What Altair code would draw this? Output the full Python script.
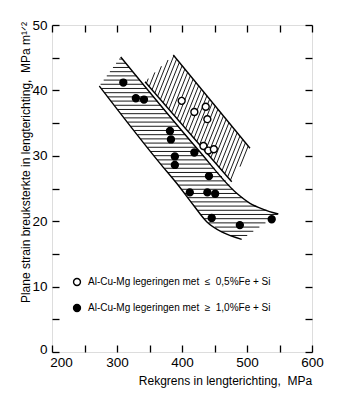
import altair as alt
import pandas as pd
import numpy as np

# ---- data ----
open_x = [399.5, 419, 436.5, 439, 433, 440.5, 449]
open_y = [38.4, 36.7, 37.5, 35.6, 31.5, 30.8, 31.0]
filled_x = [309.7, 329, 341.5, 381.5, 383, 389, 389, 419, 441.5, 412, 439, 451, 445.7, 489, 538]
filled_y = [41.2, 38.8, 38.6, 33.8, 32.5, 29.9, 28.6, 30.5, 26.9, 24.4, 24.4, 24.2, 20.5, 19.4, 20.3]

label_open = "Al-Cu-Mg legeringen met\u00a0\u00a0\u2264\u00a0\u00a00,5%Fe + Si"
label_filled = "Al-Cu-Mg legeringen met\u00a0\u00a0\u2265\u00a0\u00a01,0%Fe + Si"

# band 1 (horizontal hatch): upper edge and lower edge
band1_upper_x = [305.7, 425.1, 484.2, 504.6, 525.1, 548.2]
band1_upper_y = [45.11, 30.89, 24.27, 22.74, 21.82, 21.10]
band1_lower_x = [272.8, 366.2, 391.8, 417.4, 438.0, 463.5, 491.8]
band1_lower_y = [40.67, 28.85, 25.80, 22.48, 19.92, 18.24, 17.23]
# band 2 (slanted hatch)
band2_upper_x = [386.6, 504.6]
band2_upper_y = [45.41, 31.15]
band2_lower_x = [343.1, 476.5]
band2_lower_y = [41.33, 26.04]

x_ticks = list(range(200, 601, 50))
y_ticks = list(range(0, 51, 5))

W, H = 260, 327
XD, YD = (200, 600), (0, 50)


def to_px(x, y):
    return ((x - XD[0]) / (XD[1] - XD[0]) * W, H - (y - YD[0]) / (YD[1] - YD[0]) * H)


def to_data(px, py):
    return (XD[0] + px / W * (XD[1] - XD[0]), YD[0] + (H - py) / H * (YD[1] - YD[0]))


def hatch(xs, ys, direction, spacing):
    pts = np.array([to_px(x, y) for x, y in zip(xs, ys)])
    d = np.array(direction, float)
    d /= np.linalg.norm(d)
    n = np.array([-d[1], d[0]])
    proj = pts @ n
    segs = []
    c = proj.min() + spacing / 2
    m = len(pts)
    while c < proj.max():
        hits = []
        for i in range(m):
            a, b = pts[i], pts[(i + 1) % m]
            sa, sb = a @ n - c, b @ n - c
            if sa * sb < 0:
                t = sa / (sa - sb)
                hits.append(a + t * (b - a))
        hits.sort(key=lambda p: p @ d)
        for k in range(0, len(hits) - 1, 2):
            p, q = hits[k], hits[k + 1]
            x1, y1 = to_data(*p)
            x2, y2 = to_data(*q)
            segs.append(dict(x=x1, y=y1, x2=x2, y2=y2))
        c += spacing
    return segs


poly1_x = band1_upper_x + band1_lower_x[::-1]
poly1_y = band1_upper_y + band1_lower_y[::-1]
poly2_x = band2_upper_x + band2_lower_x[::-1]
poly2_y = band2_upper_y + band2_lower_y[::-1]

hatch_df = pd.DataFrame(hatch(poly1_x, poly1_y, (1, 0), 4.2) + hatch(poly2_x, poly2_y, (1, -2.5), 3.8))

edges = []
for name, xs, ys in [("b1u", band1_upper_x, band1_upper_y), ("b1l", band1_lower_x, band1_lower_y),
                     ("b2u", band2_upper_x, band2_upper_y), ("b2l", band2_lower_x, band2_lower_y)]:
    for i, (x, y) in enumerate(zip(xs, ys)):
        edges.append(dict(seg=name, i=i, x=x, y=y))
edge_df = pd.DataFrame(edges)

pts_df = pd.DataFrame(
    [dict(x=x, y=y, g=label_open) for x, y in zip(open_x, open_y)]
    + [dict(x=x, y=y, g=label_filled) for x, y in zip(filled_x, filled_y)]
)

xscale = alt.Scale(domain=list(XD), nice=False, zero=False)
yscale = alt.Scale(domain=list(YD), nice=False, zero=False)
FONT = "Liberation Sans"

hatch_layer = alt.Chart(hatch_df).mark_rule(color="black", strokeWidth=0.9).encode(
    x=alt.X("x:Q", scale=xscale, axis=None),
    y=alt.Y("y:Q", scale=yscale, axis=None),
    x2="x2:Q",
    y2="y2:Q",
)

edge_layer = alt.Chart(edge_df).mark_line(color="black", strokeWidth=1.4, interpolate="monotone").encode(
    x=alt.X("x:Q", scale=xscale,
            axis=alt.Axis(orient="top", values=x_ticks, labels=False, domain=False, grid=False,
                          ticks=True, tickSize=7, offset=-7, tickColor="black", tickWidth=1.3, title=None)),
    y=alt.Y("y:Q", scale=yscale,
            axis=alt.Axis(orient="right", values=y_ticks, labels=False, domain=False, grid=False,
                          ticks=True, tickSize=7, offset=-7, tickColor="black", tickWidth=1.3, title=None)),
    detail="seg:N",
    order="i:Q",
)

points_layer = alt.Chart(pts_df).mark_point(shape="circle", size=48, stroke="black", strokeWidth=1.4,
                                             opacity=1, fillOpacity=1).encode(
    x=alt.X("x:Q", scale=xscale,
            axis=alt.Axis(orient="bottom", values=x_ticks,
                          labelExpr="datum.value % 100 == 0 ? datum.label : ''",
                          labelFlush=False,
                          labelOffset={"condition": {"test": "datum.value == 200", "value": 9}, "value": 0},
                          domain=False, grid=False, tickSize=7, offset=-7, tickColor="black", tickWidth=1.3,
                          labelPadding=3, labelFontSize=13.5, labelFont=FONT, labelColor="black",
                          labelBaseline="top",
                          title="Rekgrens in lengterichting,\u00a0\u00a0MPa", titleFont=FONT, titleFontSize=12,
                          titleFontWeight="normal", titleColor="black", titleX=173, titleY=35,
                          titleBaseline="middle", titleAlign="center")),
    y=alt.Y("y:Q", scale=yscale,
            axis=alt.Axis(orient="left", values=y_ticks,
                          labelExpr="datum.value % 10 == 0 ? datum.label : ''",
                          labelFlush=False,
                          labelOffset={"condition": {"test": "datum.value == 0", "value": -3}, "value": 0},
                          domain=False, grid=False, tickSize=7, offset=-7, tickColor="black", tickWidth=1.3,
                          labelPadding=5, labelFontSize=13.5, labelFont=FONT, labelColor="black",
                          title="Plane strain breuksterkte in lengterichting,\u00a0\u00a0MPa m\u00b9\u141f\u00b2",
                          titleFont=FONT, titleFontSize=12, titleFontWeight="normal", titleColor="black",
                          titleX=-34, titleY=137, titleBaseline="middle", titleAlign="center")),
    fill=alt.Fill("g:N", scale=alt.Scale(domain=[label_open, label_filled], range=["white", "black"]),
                  legend=alt.Legend(title=None, orient="none", legendX=20, legendY=252,
                                    labelFont=FONT, labelFontSize=10, labelColor="black",
                                    symbolType="circle", symbolSize=48, symbolStrokeColor="black",
                                    symbolStrokeWidth=1.4, rowPadding=12, labelOffset=6,
                                    labelLimit=400)),
)

chart = alt.layer(hatch_layer, edge_layer, points_layer).resolve_axis(
    x="independent", y="independent"
).properties(
    width=W, height=H,
    autosize=alt.AutoSizeParams(type="none"),
    padding={"left": 44, "top": 17, "right": 30, "bottom": 40},
).configure_view(stroke="black", strokeWidth=1.5).configure(background="white")

chart.save("out.html", embed_options={"renderer": "svg", "actions": False})
